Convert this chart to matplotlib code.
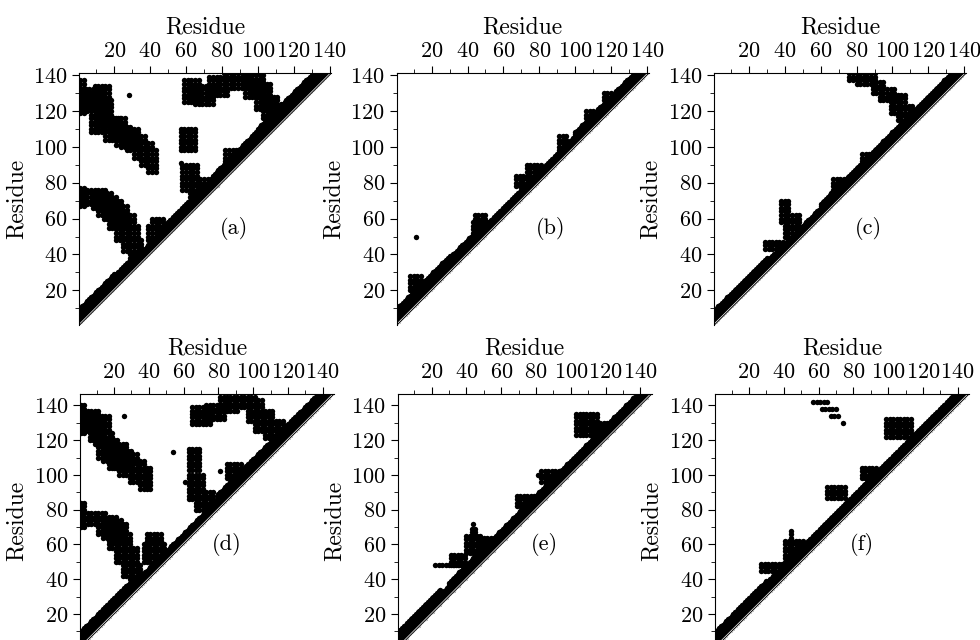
import numpy as np
import matplotlib.pyplot as plt

plt.rcParams['font.family'] = 'cmr10'
plt.rcParams['mathtext.fontset'] = 'cm'
plt.rcParams['axes.formatter.use_mathtext'] = True

# chain lengths: top row 141 residues, bottom row 146 residues
n_top = 141
n_bottom = 146
panel_names = ['(a)', '(b)', '(c)', '(d)', '(e)', '(f)']

# contacts
# band:   (k0, k1, i0, i1) -> residue pairs (i, i+k) near the diagonal
# blocks: (x0, x1, y0, y1) -> patches of contacts, every second residue
# dots:   single contacts
a_band = [(2, 6, 1, 138), (7, 9, 1, 20), (7, 8, 20, 35), (7, 8, 48, 75),
          (7, 9, 75, 110), (7, 10, 100, 135)]
a_blocks = [(1, 3, 119, 137), (3, 11, 120, 131), (9, 17, 120, 134),
            (4, 14, 122, 133), (7, 17, 108, 120), (10, 18, 112, 126),
            (15, 23, 104, 117), (18, 26, 106, 116), (21, 29, 101, 112),
            (27, 33, 98, 110), (24, 32, 100, 108), (31, 37, 94, 106),
            (35, 41, 90, 102), (39, 43, 86, 98),
            (1, 3, 67, 77), (3, 15, 68, 76), (8, 18, 66, 74),
            (11, 21, 62, 72), (17, 27, 55, 68), (14, 24, 60, 70),
            (21, 31, 48, 62), (25, 33, 42, 56), (29, 35, 36, 48),
            (41, 47, 52, 60), (39, 49, 48, 56),
            (59, 67, 125, 137), (65, 75, 124, 134), (73, 83, 129, 139),
            (81, 95, 133, 141), (93, 103, 128, 141), (99, 107, 121, 135),
            (103, 111, 116, 129), (107, 115, 116, 124),
            (57, 66, 98, 110), (58, 67, 76, 90), (62, 77, 72, 83),
            (82, 90, 90, 99)]
a_dots = [(28, 129), (57, 91)]

b_band = [(2, 6, 1, 138), (7, 9, 1, 30), (7, 8, 20, 45), (7, 8, 100, 135)]
b_blocks = [(8, 14, 20, 28), (44, 50, 52, 62), (43, 53, 50, 58),
            (67, 73, 78, 84), (73, 81, 84, 90), (91, 95, 98, 106),
            (106, 112, 114, 120), (116, 120, 124, 130)]
b_dots = [(11, 50)]

c_band = [(2, 6, 1, 138), (7, 8, 1, 30), (7, 8, 60, 138)]
c_blocks = [(76, 90, 137, 141), (80, 88, 135, 139), (89, 95, 130, 136),
            (93, 101, 126, 133), (99, 107, 119, 130), (103, 111, 115, 123),
            (38, 42, 58, 70), (40, 48, 50, 62), (29, 39, 43, 48),
            (67, 73, 76, 83), (83, 89, 90, 97)]
c_dots = []

d_band = [(2, 6, 1, 143), (7, 9, 1, 30), (7, 9, 80, 143)]
d_blocks = [(1, 3, 124, 141), (3, 11, 125, 137), (9, 17, 118, 135),
            (6, 14, 120, 132), (11, 19, 110, 124), (17, 27, 104, 118),
            (14, 22, 108, 120), (23, 33, 100, 112), (20, 30, 104, 114),
            (29, 37, 96, 108), (35, 41, 92, 104),
            (1, 3, 70, 85), (3, 15, 72, 79), (11, 21, 66, 77), (17, 27, 58, 72),
            (14, 24, 64, 74), (21, 29, 50, 66), (25, 33, 42, 58),
            (29, 35, 36, 48),
            (39, 47, 54, 66), (37, 49, 50, 60),
            (65, 75, 129, 140), (73, 83, 132, 141), (81, 91, 137, 146),
            (89, 101, 139, 146), (97, 105, 131, 143), (101, 111, 125, 137),
            (107, 117, 121, 131),
            (63, 69, 103, 115), (63, 71, 86, 100), (67, 77, 80, 90),
            (85, 93, 98, 106)]
d_dots = [(26, 134), (54, 113), (61, 96), (81, 102)]

e_band = [(2, 6, 1, 143), (7, 9, 1, 25), (7, 8, 30, 143)]
e_blocks = [(22, 36, 48, 48), (31, 39, 48, 55), (40, 48, 55, 65),
            (43, 45, 65, 70), (48, 54, 58, 64), (69, 79, 82, 89),
            (83, 95, 96, 102), (103, 115, 123, 135), (113, 123, 124, 131)]
e_dots = [(44, 72), (81, 100)]

f_band = [(2, 6, 1, 143), (7, 9, 1, 30), (7, 8, 30, 143)]
f_blocks = [(99, 113, 122, 133), (65, 75, 87, 93), (85, 93, 98, 105),
            (41, 51, 50, 62), (44, 44, 62, 68), (27, 39, 45, 50)]
f_dots = [(57, 142), (59, 142), (61, 142), (63, 142), (65, 142),
          (62, 138), (64, 138), (66, 138), (68, 138), (70, 138),
          (67, 134), (69, 134), (71, 134), (74, 130)]


def contact_points(band, blocks, dots, n):
    pts = set()
    for k0, k1, i0, i1 in band:
        for k in range(k0, k1 + 1):
            for i in range(i0, i1 + 1):
                if i + k <= n:
                    pts.add((i, i + k))
    for x0, x1, y0, y1 in blocks:
        for x in range(x0, x1 + 1, 2):
            for y in range(y0, y1 + 1, 2):
                if y - x >= 3 and y <= n:
                    pts.add((x, y))
    for p in dots:
        pts.add(p)
    return np.array(sorted(pts))


panels = [(a_band, a_blocks, a_dots, n_top), (b_band, b_blocks, b_dots, n_top),
          (c_band, c_blocks, c_dots, n_top), (d_band, d_blocks, d_dots, n_bottom),
          (e_band, e_blocks, e_dots, n_bottom), (f_band, f_blocks, f_dots, n_bottom)]

W, H = 980, 640
fig = plt.figure(figsize=(W / 100, H / 100), dpi=100)

lefts = [79.3, 396.7, 714, 80, 397.7, 715]
tops = [73.3, 73.3, 73.3, 394, 394, 394]
sizes = [252, 252, 252, 254, 254, 254]

for idx, (band, blocks, dots, n) in enumerate(panels):
    l, t, s = lefts[idx], tops[idx], sizes[idx]
    ax = fig.add_axes([l / W, 1 - (t + s) / H, s / W, s / H])
    pts = contact_points(band, blocks, dots, n)
    ax.scatter(pts[:, 0], pts[:, 1], s=15, c='k', marker='o', linewidths=0)
    lim = n + 0.5 if n == n_bottom else n
    # thin white gap between the contacts and the diagonal line
    ax.plot([0.5, lim], [0.5, lim], color='white', lw=1.7, solid_capstyle='butt')
    ax.plot([0.5, lim], [0.5, lim], color='k', lw=0.7)
    ax.set_xlim(0.5, lim)
    ax.set_ylim(0.5, lim)
    ax.spines['bottom'].set_visible(False)
    ax.spines['right'].set_visible(False)
    ax.xaxis.tick_top()
    ax.xaxis.set_label_position('top')
    ax.set_xticks(range(20, 141, 20))
    ax.set_yticks(range(20, 141, 20))
    ax.set_xticks(range(10, 141, 20), minor=True)
    ax.set_yticks(range(10, 141, 20), minor=True)
    ax.tick_params(which='both', direction='out', labelsize=16)
    ax.tick_params(which='major', length=5)
    ax.tick_params(which='minor', length=3)
    ax.set_xlabel('Residue', fontsize=17, labelpad=6)
    ax.set_ylabel('Residue', fontsize=17, labelpad=4)
    if idx < 3:
        ax.text(0.612, 0.385, panel_names[idx], transform=ax.transAxes,
                ha='center', va='center', fontsize=16)
    else:
        ax.text(0.577, 0.407, panel_names[idx], transform=ax.transAxes,
                ha='center', va='center', fontsize=16)

fig.savefig('out.png', dpi=100)
